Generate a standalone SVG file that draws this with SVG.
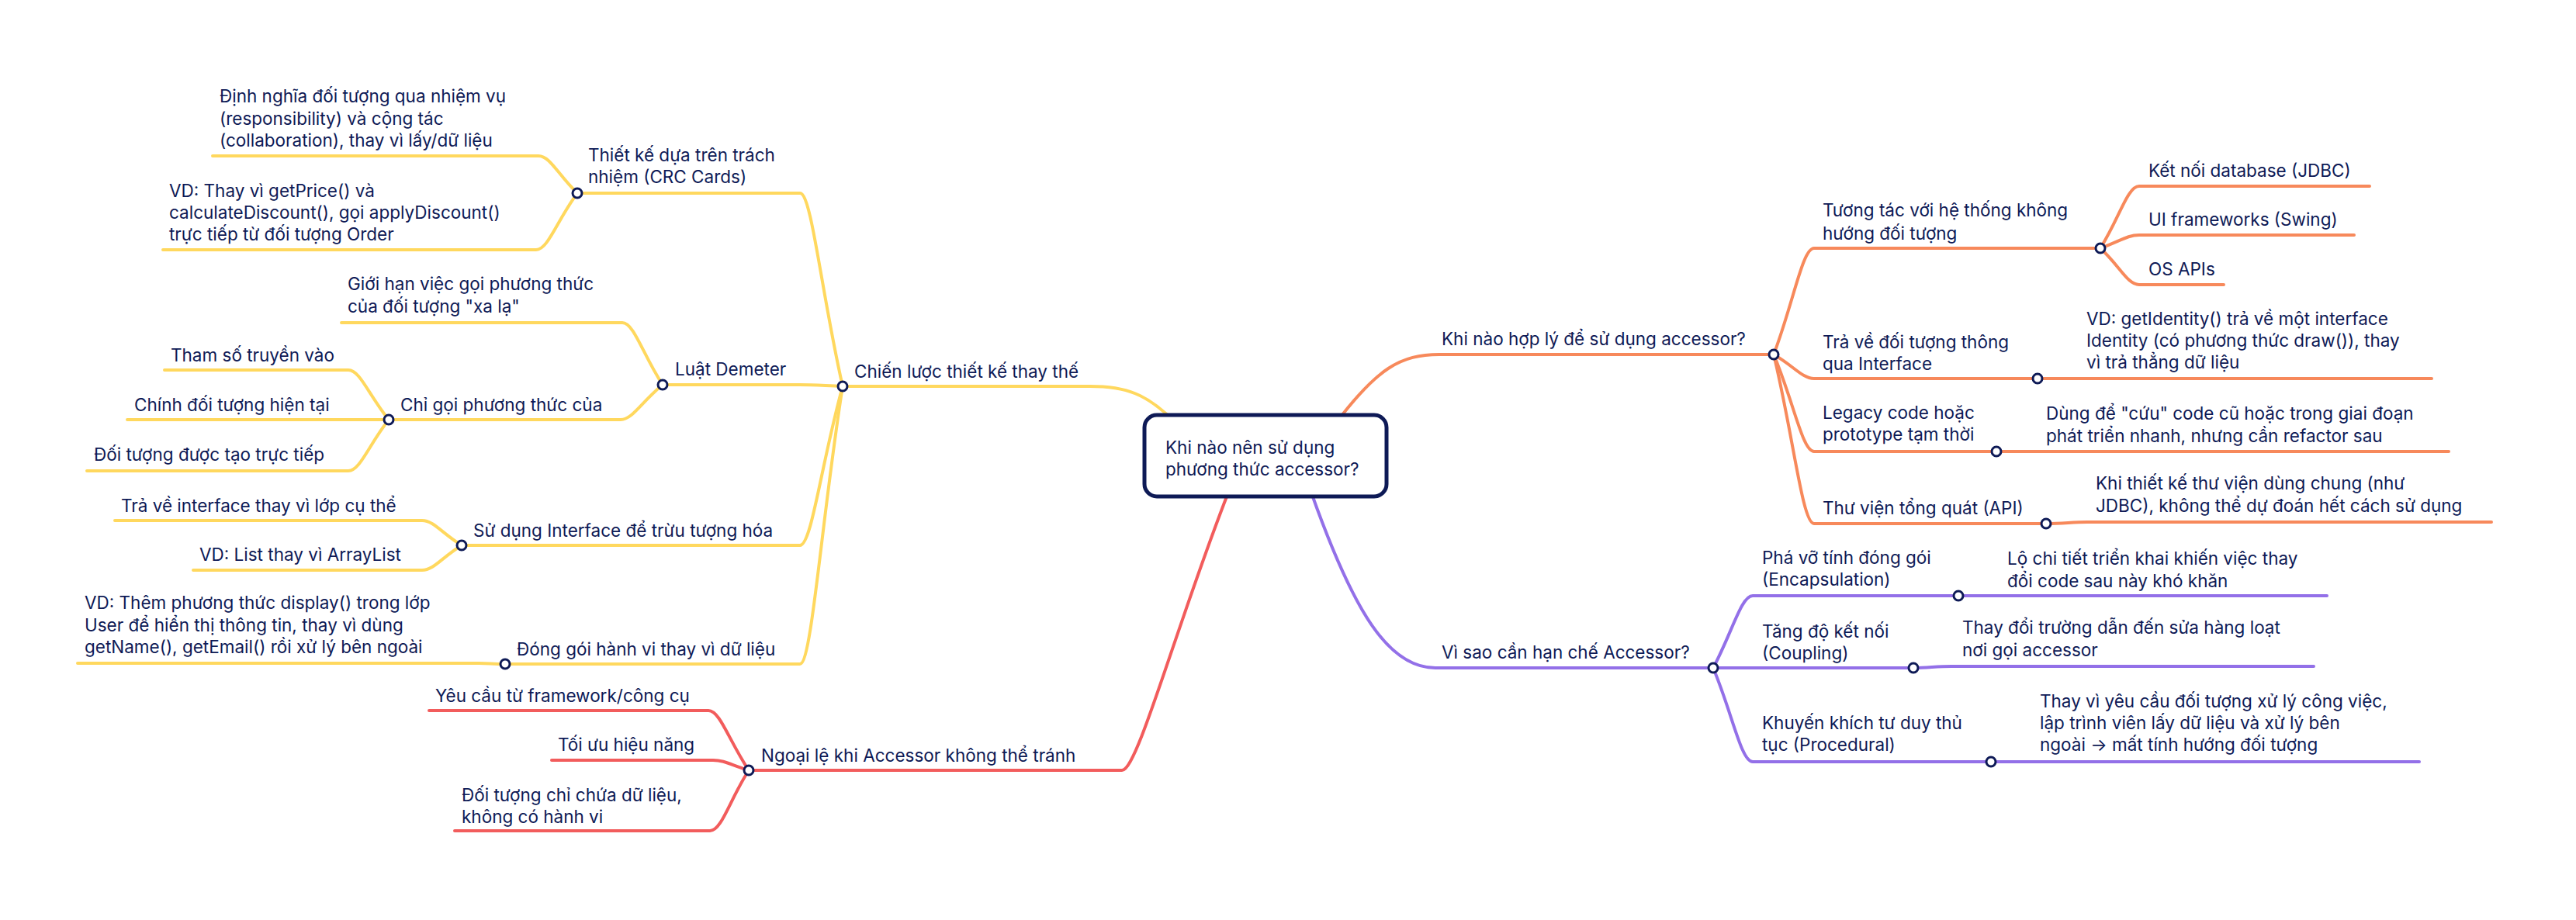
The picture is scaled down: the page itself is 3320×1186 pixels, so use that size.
<svg xmlns="http://www.w3.org/2000/svg" width="3320" height="1186" viewBox="0 0 3320 1186">
<style>
text{font-family:Inter,"Noto Sans",sans-serif;font-size:22.5px;fill:#0e1a56}
.c path{fill:none;stroke-width:4;stroke-linecap:round}
.y path{stroke:#ffd85e}
.o path{stroke:#f7895b}
.r path{stroke:#f25c5c}
.p path{stroke:#9370e8}
circle.k{fill:#fff;stroke:#0e1a56;stroke-width:3}
.root rect{fill:#fff;stroke:#0e1a56;stroke-width:5}
</style>
<g class="c" id="connectors">
<g class="y">
<path d="M1515 545C1478 507 1450 498 1405 498L1086 498"/>
<path d="M1086 498C1058 374 1046 249 1031 249L744 249"/>
<path d="M1086 498C1060 497 1050 496 1030 496L854 496"/>
<path d="M1086 498C1058 600 1046 703 1031 703L595 703"/>
<path d="M1086 498C1058 677 1046 856 1031 856L651 856"/>
<path d="M744 249C719 225 709 201 694 201L274 201"/>
<path d="M744 249C717 286 706 322 691 322L210 322"/>
<path d="M854 496C828 456 817 416 802 416L440 416"/>
<path d="M854 496C827 518 815 541 800 541L501 541"/>
<path d="M501 541C475 509 464 477 449 477L212 477"/>
<path d="M501 541L164 541"/>
<path d="M501 541C475 574 464 607 449 607L112 607"/>
<path d="M595 703C569 687 559 671 544 671L148 671"/>
<path d="M595 703C569 719 559 735 544 735L249 735"/>
<path d="M651 856C635 856 630 855 617 855L100 855"/>
</g>
<g class="r">
<path d="M1583 635C1514 812 1466 993 1446 993L965 993"/>
<path d="M965 993C939 954 928 916 913 916L553 916"/>
<path d="M965 993C942 986 934 980 919 980L711 980"/>
<path d="M965 993C940 1032 930 1071 915 1071L586 1071"/>
</g>
<g class="o">
<path d="M1722 545C1775 475 1805 457 1855 457L2286 457"/>
<path d="M2286 457C2312 388 2323 320 2338 320L2707 320"/>
<path d="M2286 457C2312 472 2323 488 2338 488L2626 488"/>
<path d="M2626 488L3134 488"/>
<path d="M2286 457C2312 519 2323 582 2338 582L2573 582"/>
<path d="M2573 582L3156 582"/>
<path d="M2286 457C2312 566 2323 675 2338 675L2637 675"/>
<path d="M2637 675C2660 675 2670 673 2690 673L3211 673"/>
<path d="M2707 320C2732 280 2742 240 2757 240L3054 240"/>
<path d="M2707 320C2732 311 2742 303 2757 303L3034 303"/>
<path d="M2707 320C2732 343 2742 367 2757 367L2866 367"/>
</g>
<g class="p">
<path d="M1690 635C1745 790 1790 861 1850 861L2208 861"/>
<path d="M2208 861C2233 814 2244 768 2259 768L2524 768"/>
<path d="M2524 768L2999 768"/>
<path d="M2208 861L2466 861"/>
<path d="M2466 861C2485 861 2495 859 2515 859L2982 859"/>
<path d="M2208 861C2233 921 2244 982 2259 982L2566 982"/>
<path d="M2566 982L3118 982"/>
</g>
</g>

<g id="root" class="root">
<rect x="1475" y="535" width="312" height="105" rx="16"/>
<text x="1502" y="585">Khi nào nên sử dụng</text>
<text x="1502" y="613">phương thức accessor?</text>
</g>

<g id="n-chien-luoc"><text x="1101" y="487">Chiến lược thiết kế thay thế</text><circle class="k" cx="1086" cy="498" r="6"/></g>
<g id="n-crc"><text x="758" y="208">Thiết kế dựa trên trách</text><text x="758" y="236">nhiệm (CRC Cards)</text><circle class="k" cx="744" cy="249" r="6"/></g>
<g id="n-dinh-nghia"><text x="283" y="132">Định nghĩa đối tượng qua nhiệm vụ</text><text x="283" y="161">(responsibility) và cộng tác</text><text x="283" y="189">(collaboration), thay vì lấy/dữ liệu</text></g>
<g id="n-vd-price"><text x="218" y="254">VD: Thay vì getPrice() và</text><text x="218" y="282">calculateDiscount(), gọi applyDiscount()</text><text x="218" y="310">trực tiếp từ đối tượng Order</text></g>
<g id="n-demeter"><text x="870" y="484">Luật Demeter</text><circle class="k" cx="854" cy="496" r="6"/></g>
<g id="n-gioi-han"><text x="448" y="374">Giới hạn việc gọi phương thức</text><text x="448" y="403">của đối tượng "xa lạ"</text></g>
<g id="n-chi-goi"><text x="516" y="530">Chỉ gọi phương thức của</text><circle class="k" cx="501" cy="541" r="6"/></g>
<g id="n-tham-so"><text x="220" y="466">Tham số truyền vào</text></g>
<g id="n-chinh"><text x="173" y="530">Chính đối tượng hiện tại</text></g>
<g id="n-duoc-tao"><text x="121" y="594">Đối tượng được tạo trực tiếp</text></g>
<g id="n-interface"><text x="610" y="692">Sử dụng Interface để trừu tượng hóa</text><circle class="k" cx="595" cy="703" r="6"/></g>
<g id="n-tra-ve-if"><text x="156" y="660">Trả về interface thay vì lớp cụ thể</text></g>
<g id="n-vd-list"><text x="257" y="723">VD: List thay vì ArrayList</text></g>
<g id="n-dong-goi"><text x="666" y="845">Đóng gói hành vi thay vì dữ liệu</text><circle class="k" cx="651" cy="856" r="6"/></g>
<g id="n-vd-display"><text x="109" y="785">VD: Thêm phương thức display() trong lớp</text><text x="109" y="814">User để hiển thị thông tin, thay vì dùng</text><text x="109" y="842">getName(), getEmail() rồi xử lý bên ngoài</text></g>

<g id="n-ngoai-le"><text x="981" y="982">Ngoại lệ khi Accessor không thể tránh</text><circle class="k" cx="965" cy="993" r="6"/></g>
<g id="n-yeu-cau"><text x="561" y="905">Yêu cầu từ framework/công cụ</text></g>
<g id="n-toi-uu"><text x="719" y="968">Tối ưu hiệu năng</text></g>
<g id="n-chi-chua"><text x="595" y="1033">Đối tượng chỉ chứa dữ liệu,</text><text x="595" y="1061">không có hành vi</text></g>

<g id="n-hop-ly"><text x="1858" y="445">Khi nào hợp lý để sử dụng accessor?</text><circle class="k" cx="2286" cy="457" r="6"/></g>
<g id="n-tuong-tac"><text x="2349" y="279">Tương tác với hệ thống không</text><text x="2349" y="309">hướng đối tượng</text><circle class="k" cx="2707" cy="320" r="6"/></g>
<g id="n-jdbc"><text x="2769" y="228">Kết nối database (JDBC)</text></g>
<g id="n-swing"><text x="2769" y="291">UI frameworks (Swing)</text></g>
<g id="n-os"><text x="2769" y="355">OS APIs</text></g>
<g id="n-tra-ve"><text x="2349" y="449">Trả về đối tượng thông</text><text x="2349" y="477">qua Interface</text><circle class="k" cx="2626" cy="488" r="6"/></g>
<g id="n-vd-identity"><text x="2689" y="419">VD: getIdentity() trả về một interface</text><text x="2689" y="447">Identity (có phương thức draw()), thay</text><text x="2689" y="475">vì trả thẳng dữ liệu</text></g>
<g id="n-legacy"><text x="2349" y="540">Legacy code hoặc</text><text x="2349" y="568">prototype tạm thời</text><circle class="k" cx="2573" cy="582" r="6"/></g>
<g id="n-cuu"><text x="2637" y="541">Dùng để "cứu" code cũ hoặc trong giai đoạn</text><text x="2637" y="570">phát triển nhanh, nhưng cần refactor sau</text></g>
<g id="n-thu-vien"><text x="2349" y="663">Thư viện tổng quát (API)</text><circle class="k" cx="2637" cy="675" r="6"/></g>
<g id="n-thiet-ke-tv"><text x="2701" y="631">Khi thiết kế thư viện dùng chung (như</text><text x="2701" y="660">JDBC), không thể dự đoán hết cách sử dụng</text></g>

<g id="n-vi-sao"><text x="1858" y="849">Vì sao cần hạn chế Accessor?</text><circle class="k" cx="2208" cy="861" r="6"/></g>
<g id="n-pha-vo"><text x="2271" y="727">Phá vỡ tính đóng gói</text><text x="2271" y="755">(Encapsulation)</text><circle class="k" cx="2524" cy="768" r="6"/></g>
<g id="n-lo"><text x="2587" y="728">Lộ chi tiết triển khai khiến việc thay</text><text x="2587" y="757">đổi code sau này khó khăn</text></g>
<g id="n-tang-do"><text x="2271" y="822">Tăng độ kết nối</text><text x="2271" y="850">(Coupling)</text><circle class="k" cx="2466" cy="861" r="6"/></g>
<g id="n-thay-doi"><text x="2529" y="817">Thay đổi trường dẫn đến sửa hàng loạt</text><text x="2529" y="846">nơi gọi accessor</text></g>
<g id="n-khuyen-khich"><text x="2271" y="940">Khuyến khích tư duy thủ</text><text x="2271" y="968">tục (Procedural)</text><circle class="k" cx="2566" cy="982" r="6"/></g>
<g id="n-thay-vi"><text x="2629" y="912">Thay vì yêu cầu đối tượng xử lý công việc,</text><text x="2629" y="940">lập trình viên lấy dữ liệu và xử lý bên</text><text x="2629" y="968">ngoài → mất tính hướng đối tượng</text></g>
</svg>
